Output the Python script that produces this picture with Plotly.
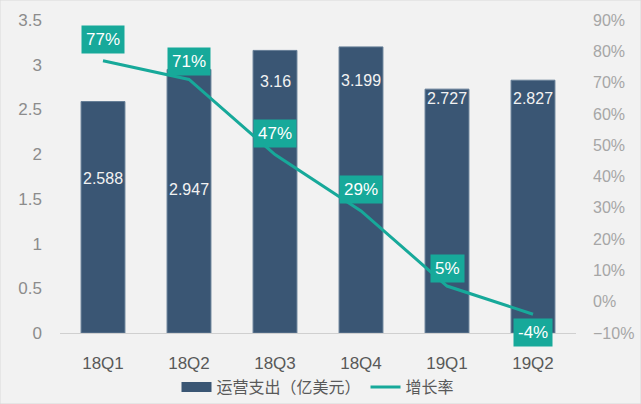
import plotly.graph_objects as go

categories = ["18Q1", "18Q2", "18Q3", "18Q4", "19Q1", "19Q2"]
opex = [2.588, 2.947, 3.16, 3.199, 2.727, 2.827]
growth = [0.77, 0.71, 0.47, 0.29, 0.05, -0.04]
growth_labels = ["77%", "71%", "47%", "29%", "5%", "-4%"]
# vertical placement of the bar value labels (data units on left axis)
bar_label_y = [1.73, 1.61, 2.81, 2.82, 2.62, 2.62]
# pixel shift of growth labels relative to the point
growth_label_shift = [21, 18, 21, 21, 18, -18]

BAR = "#3A5674"
TEAL = "#17A99A"
FONT = "Liberation Sans, Arial, sans-serif"

fig = go.Figure()
fig.add_trace(go.Bar(
    x=categories, y=opex, name="运营支出（亿美元）",
    marker=dict(color=BAR, line=dict(color="#647d96", width=1)),
    width=0.51, yaxis="y", showlegend=False,
))
# legend entry drawn as a wide rectangle like the reference
fig.add_trace(go.Scatter(
    x=[None], y=[None], name="运营支出（亿美元）", mode="lines",
    line=dict(color=BAR, width=10), yaxis="y",
))
fig.add_trace(go.Scatter(
    x=categories, y=growth, name="增长率", mode="lines",
    line=dict(color=TEAL, width=3), yaxis="y2",
))

annotations = []
for c, v, ly in zip(categories, opex, bar_label_y):
    annotations.append(dict(
        x=c, y=ly, xref="x", yref="y", text=str(v), showarrow=False,
        font=dict(family=FONT, size=16, color="#F2F2F2"),
    ))
for c, g, t, s in zip(categories, growth, growth_labels, growth_label_shift):
    annotations.append(dict(
        x=c, y=g, xref="x", yref="y2", text=t, showarrow=False, yshift=s,
        font=dict(family=FONT, size=17, color="#FFFFFF"),
        bgcolor=TEAL, borderpad=4,
    ))

fig.update_layout(
    width=641, height=404,
    margin=dict(l=60, r=65, t=20, b=71, autoexpand=False),
    paper_bgcolor="#F2F2F2", plot_bgcolor="#F2F2F2",
    font=dict(family=FONT, size=15, color="#8C8C8C"),
    showlegend=True,
    legend=dict(
        orientation="h", x=0.5, xanchor="center",
        y=-54 / 313, yanchor="middle",
        font=dict(family="Noto Sans CJK SC, sans-serif", size=16, color="#595959"),
        itemwidth=30, bgcolor="rgba(0,0,0,0)",
    ),
    xaxis=dict(
        showgrid=False, showline=True, linecolor="#D0D0D0", linewidth=1,
        ticks="", ticklabelstandoff=15, automargin=False,
        tickfont=dict(family=FONT, size=17, color="#595959"),
    ),
    yaxis=dict(
        range=[0, 3.5], dtick=0.5, showgrid=False, zeroline=False,
        showline=False, ticks="", ticklabelstandoff=17, automargin=False,
        tickfont=dict(family=FONT, size=17, color="#8C8C8C"),
    ),
    yaxis2=dict(
        range=[-0.1, 0.9], dtick=0.1, tickformat=".0%", overlaying="y",
        side="right", showgrid=False, zeroline=False, showline=False,
        ticks="", ticklabelstandoff=16, automargin=False,
        tickfont=dict(family=FONT, size=16, color="#A6A6A6"),
    ),
    annotations=annotations,
    shapes=[dict(type="rect", xref="paper", yref="paper",
                 x0=-60/516, x1=1+65/516, y0=-71/313, y1=1+20/313,
                 line=dict(color="#D9D9D9", width=1), layer="below")],
)

fig.write_html("out.html")
